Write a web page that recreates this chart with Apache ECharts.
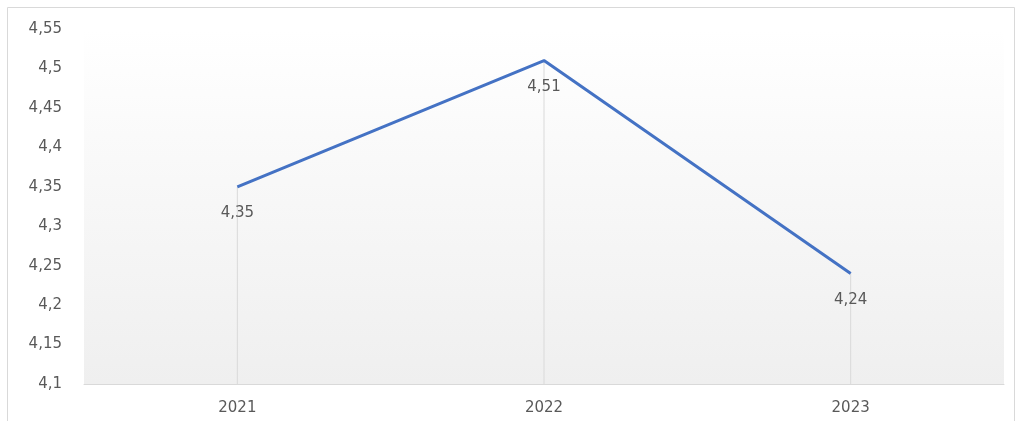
<!DOCTYPE html>
<html>
<head>
<meta charset="utf-8">
<script src="https://cdn.jsdelivr.net/npm/echarts@6/dist/echarts.min.js"></script>
<style>
  html, body { margin: 0; padding: 0; background: #fff; }
  #main { width: 1019px; height: 421px; }
</style>
</head>
<body>
<div id="main"></div>
<script>
// data
const years = ["2021", "2022", "2023"]
const values = [4.35, 4.51, 4.24]

const comma = v => String(v).replace(".", ",")

const myChart = echarts.init(document.getElementById("main"))
myChart.setOption({
  animation: false,
  textStyle: { fontFamily: "DejaVu Sans" },
  graphic: [
    {
      type: "rect",
      silent: true,
      shape: { x: 7.5, y: 7.5, width: 1007, height: 430 },
      style: { fill: "none", stroke: "#d9d9d9", lineWidth: 1 }
    }
  ],
  grid: {
    left: 84, right: 15, top: 29, bottom: 37,
    show: true,
    borderWidth: 0,
    backgroundColor: new echarts.graphic.LinearGradient(0, 0, 0, 1, [
      { offset: 0, color: "#ffffff" },
      { offset: 0.3, color: "#fafafa" },
      { offset: 1, color: "#efefef" }
    ])
  },
  xAxis: {
    type: "category",
    data: years,
    axisTick: { show: false },
    axisLine: { lineStyle: { color: "#d9d9d9", width: 1 } },
    axisLabel: { color: "#595959", fontSize: 15, margin: 17 }
  },
  yAxis: {
    type: "value",
    min: 4.1,
    max: 4.55,
    interval: 0.05,
    splitLine: { show: false },
    axisLine: { show: false },
    axisTick: { show: false },
    axisLabel: {
      color: "#595959",
      fontSize: 15,
      margin: 22,
      formatter: v => comma(Math.round(v * 100) / 100)
    }
  },
  series: [
    {
      // drop lines
      type: "bar",
      data: values,
      barWidth: 1,
      silent: true,
      itemStyle: { color: "#d9d9d9" },
      z: 1
    },
    {
      type: "line",
      data: values,
      symbol: "circle",
      symbolSize: 0,
      showSymbol: true,
      lineStyle: { color: "#4472C4", width: 3 },
      itemStyle: { color: "#4472C4" },
      label: {
        show: true,
        position: "bottom",
        distance: 19,
        color: "#595959",
        fontSize: 15,
        formatter: p => comma(p.value)
      },
      z: 3
    }
  ]
})
</script>
</body>
</html>
